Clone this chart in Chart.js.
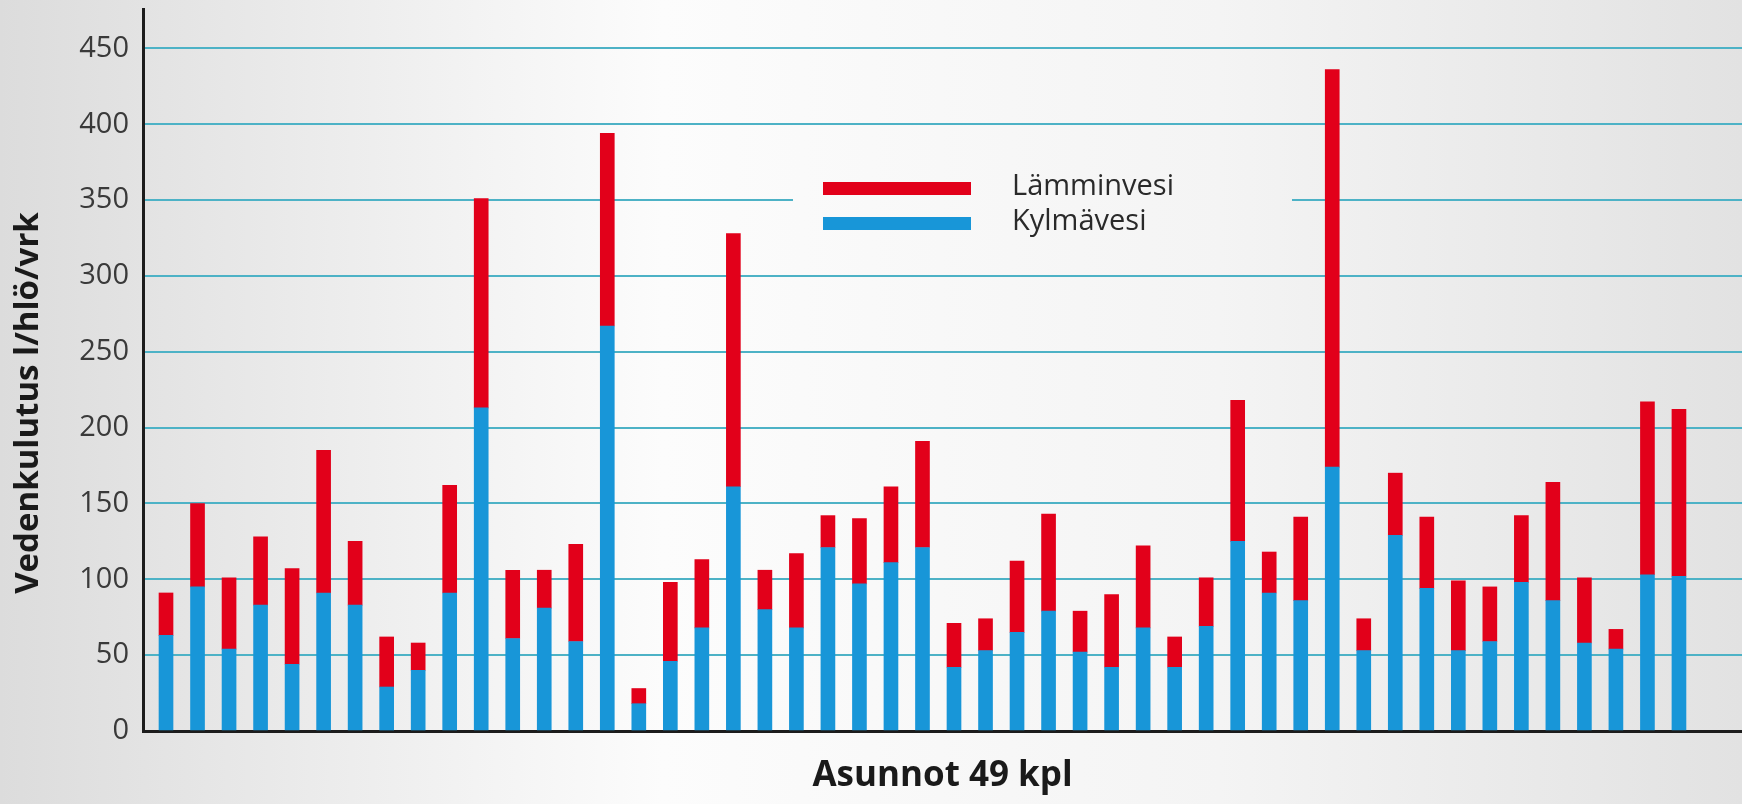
<!DOCTYPE html>
<html lang="fi">
<head>
<meta charset="utf-8">
<title>Vedenkulutus</title>
<script src="https://cdn.jsdelivr.net/npm/chart.js@4.4.1/dist/chart.umd.min.js"></script>
<style>
  html, body { margin: 0; padding: 0; background: #eeeeee; }
  #wrap { position: relative; width: 1742px; height: 804px; }
</style>
</head>
<body>
<div id="wrap"><canvas id="waterChart"></canvas></div>
<script>
(function () {
  'use strict';

  // asunnot (apartments) 1..49
  const asunnot = [1, 2, 3, 4, 5, 6, 7, 8, 9, 10, 11, 12, 13, 14, 15, 16, 17, 18, 19, 20,
    21, 22, 23, 24, 25, 26, 27, 28, 29, 30, 31, 32, 33, 34, 35, 36, 37, 38, 39, 40,
    41, 42, 43, 44, 45, 46, 47, 48, 49];

  // cold water, l/person/day (bottom part of each bar)
  const kylmavesi = [63, 95, 54, 83, 44, 91, 83, 29, 40, 91, 213, 61, 81, 59, 267, 18, 46, 68, 161, 80,
    68, 121, 97, 111, 121, 42, 53, 65, 79, 52, 42, 68, 42, 69, 125, 91, 86, 174, 53, 129,
    94, 53, 59, 98, 86, 58, 54, 103, 102];

  // hot water, l/person/day (top part of each bar)
  const lamminvesi = [28, 55, 47, 45, 63, 94, 42, 33, 18, 71, 138, 45, 25, 64, 127, 10, 52, 45, 167, 26,
    49, 21, 43, 50, 70, 29, 21, 47, 64, 27, 48, 54, 20, 32, 93, 27, 55, 262, 21, 41,
    47, 46, 36, 44, 78, 43, 13, 114, 110];

  const yTicks = [0, 50, 100, 150, 200, 250, 300, 350, 400, 450];
  const seriesNames = ['Kylmävesi', 'Lämminvesi'];
  const seriesColors = ['#1896d8', '#e2001a'];
  const yTitle = 'Vedenkulutus l/hlö/vrk';
  const xTitle = 'Asunnot 49 kpl';

  const FONT = "'Open Sans', 'Noto Sans', sans-serif";

  // soft grey-white background, also reused to blank the gridline behind the legend
  const backdrop = {
    id: 'backdrop',
    beforeDraw(chart) {
      const { ctx, width, height } = chart;
      const g = ctx.createLinearGradient(0, 0, width, 0);
      g.addColorStop(0, '#dcdcdc');
      g.addColorStop(0.38, '#fcfcfc');
      g.addColorStop(0.7, '#f4f4f4');
      g.addColorStop(1, '#e2e2e2');
      chart.$bgFill = g;
      ctx.save();
      ctx.fillStyle = g;
      ctx.fillRect(0, 0, width, height);
      ctx.restore();
    }
  };

  // legend box sitting inside the plot, red entry first
  const innerLegend = {
    id: 'innerLegend',
    beforeDatasetsDraw(chart) {
      const ctx = chart.ctx;
      ctx.save();
      ctx.fillStyle = chart.$bgFill || '#f8f8f8';
      ctx.fillRect(793, 158, 499, 92);
      const items = chart.data.datasets.slice().reverse();
      ctx.font = '29px ' + FONT;
      ctx.textBaseline = 'alphabetic';
      items.forEach((ds, i) => {
        const base = 195 + i * 35;
        ctx.fillStyle = ds.backgroundColor;
        ctx.fillRect(823, base - 13, 148, 13);
        ctx.fillStyle = '#2a2a2a';
        ctx.fillText(ds.label, 1012, base);
      });
      ctx.restore();
    }
  };

  const sideTitle = {
    id: 'sideTitle',
    afterDraw(chart) {
      const ctx = chart.ctx;
      ctx.save();
      ctx.translate(29, 403);
      ctx.rotate(-Math.PI / 2);
      ctx.font = 'bold 33px ' + FONT;
      ctx.textAlign = 'center';
      ctx.textBaseline = 'middle';
      ctx.fillStyle = '#1a1a1a';
      ctx.fillText(yTitle, 0, 0);
      ctx.restore();
    }
  };

  function toPoints(values) {
    return values.map((v, i) => ({ x: asunnot[i], y: v }));
  }

  new Chart(document.getElementById('waterChart').getContext('2d'), {
    type: 'bar',
    data: {
      datasets: [
        {
          label: seriesNames[0],
          data: toPoints(kylmavesi),
          backgroundColor: seriesColors[0],
          barThickness: 14
        },
        {
          label: seriesNames[1],
          data: toPoints(lamminvesi),
          backgroundColor: seriesColors[1],
          barThickness: 14
        }
      ]
    },
    options: {
      responsive: true,
      maintainAspectRatio: false,
      animation: false,
      layout: { padding: { top: 9, left: 0, right: 0, bottom: 0 } },
      plugins: {
        legend: { display: false },
        tooltip: { enabled: false }
      },
      scales: {
        x: {
          type: 'linear',
          stacked: true,
          offset: false,
          min: 0.27,
          max: 51,
          grid: { display: false, drawTicks: false, offset: false },
          border: { display: true, color: '#1c1c1c', width: 3 },
          ticks: { display: false },
          title: {
            display: true,
            text: xTitle,
            color: '#1a1a1a',
            font: { family: FONT, size: 35, weight: 'bold' },
            padding: { top: 0, bottom: 7 }
          },
          afterFit(scale) {
            scale.height = 73;
            scale.paddingLeft = 0;
            scale.paddingRight = 0;
          }
        },
        y: {
          stacked: true,
          min: 0,
          max: 476,
          afterBuildTicks(scale) {
            scale.ticks = yTicks.map(v => ({ value: v }));
          },
          afterFit(scale) {
            scale.width = 143;
            scale.paddingTop = 0;
            scale.paddingBottom = 0;
          },
          grid: { color: '#4db2c6', lineWidth: 2, drawTicks: false },
          border: { display: true, color: '#1c1c1c', width: 3 },
          ticks: {
            padding: 14,
            color: '#3a3a3a',
            font: { family: FONT, size: 29 }
          }
        }
      }
    },
    plugins: [backdrop, innerLegend, sideTitle]
  });
})();
</script>
</body>
</html>
